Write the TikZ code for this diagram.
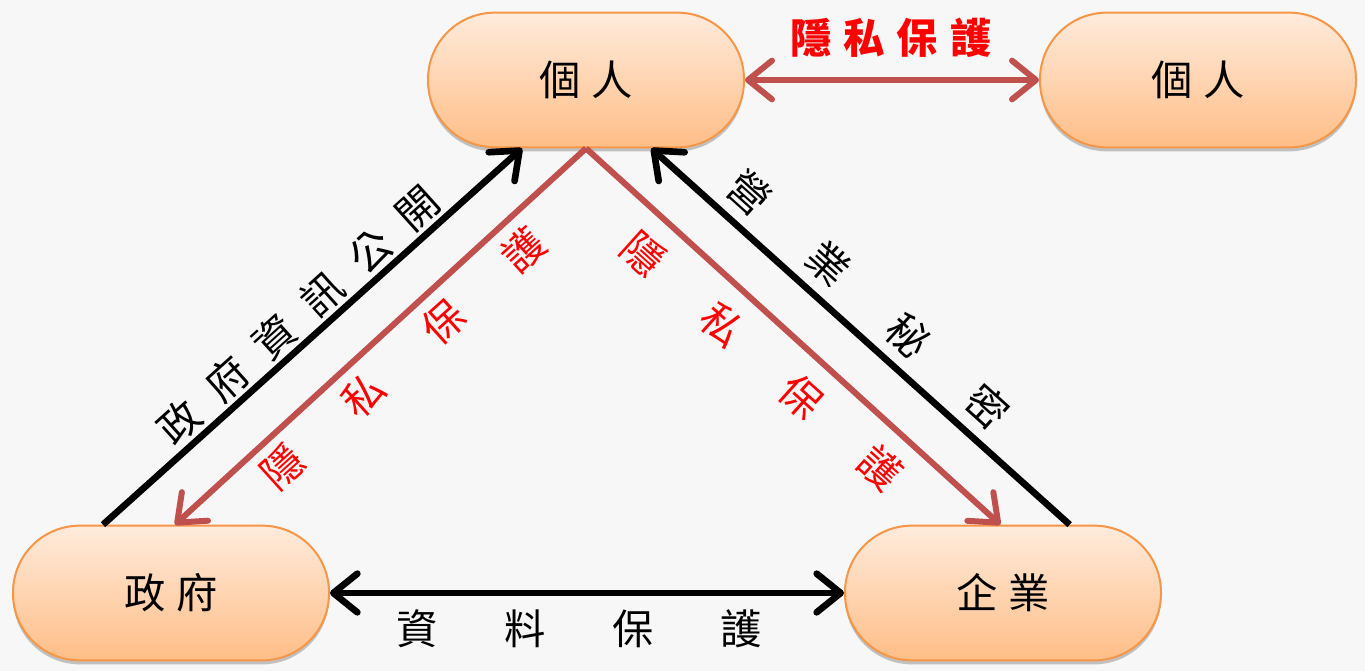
\documentclass[tikz,border=0pt]{standalone}
\usepackage{fontspec}
\setmainfont{Noto Sans CJK TC}
\usetikzlibrary{arrows.meta,shadows,calc}
\definecolor{bg}{HTML}{F7F7F7}
\definecolor{nodeline}{HTML}{F79646}
\definecolor{nodetop}{HTML}{FFEBDC}
\definecolor{nodebot}{HTML}{FFBE87}
\definecolor{redarrow}{HTML}{C0504D}
\definecolor{redtext}{HTML}{FF0000}
\newcommand\cbox[2]{\makebox[#1]{#2}}
\begin{document}
\begin{tikzpicture}[x=0.75pt,y=-0.75pt,
  pill/.style={rectangle, rounded corners=50pt, minimum width=237pt, minimum height=101pt,
    draw=nodeline, line width=1.5pt, top color=nodetop, bottom color=nodebot,
    drop shadow={shadow xshift=0pt, shadow yshift=-3pt, opacity=0.22, fill=black},
    font=\fontsize{31}{33}\selectfont, inner sep=0pt},
  blackarrow/.style={line width=5pt, draw=black, -{Straight Barb[length=18pt, width=29pt, line cap=round, line join=round]}},
  blackboth/.style={line width=5pt, draw=black, {Straight Barb[length=18pt, width=29pt, line cap=round, line join=round]}-{Straight Barb[length=18pt, width=29pt, line cap=round, line join=round]}},
  redarrow/.style={line width=4.5pt, draw=redarrow, -{Straight Barb[length=18pt, width=29pt, line cap=round, line join=round]}},
  redboth/.style={line width=4.5pt, draw=redarrow, {Straight Barb[length=18pt, width=29pt, line cap=round, line join=round]}-{Straight Barb[length=18pt, width=29pt, line cap=round, line join=round]}},
  blklabel/.style={font=\fontsize{31}{33}\selectfont, text=black, inner sep=0pt},
  redlabel/.style={font=\fontsize{31}{33}\selectfont, text=redtext, inner sep=0pt},
]
\fill[bg] (0,0) rectangle (1365,671);
\useasboundingbox (0,0) rectangle (1365,671);

\node[pill] (p1) at (586,80) {\cbox{39pt}{個}\cbox{39pt}{人}};
\node[pill] (p2) at (1198,80) {\cbox{39pt}{個}\cbox{39pt}{人}};
\node[pill] (gov) at (171,593) {\cbox{39pt}{政}\cbox{39pt}{府}};
\node[pill] (ent) at (1003,593) {\cbox{39pt}{企}\cbox{39pt}{業}};

% connectors
\draw[blackarrow] ([xshift=-51pt]gov.north) -- ([xshift=-48pt]p1.south);
\draw[redarrow] (p1.south) -- ([xshift=3pt]gov.north);
\draw[redarrow] (p1.south) -- ([xshift=-2pt]ent.north);
\draw[blackarrow] ([xshift=50pt]ent.north) -- ([xshift=49pt]p1.south);
\draw[blackboth] (gov.east) -- (ent.west);
\draw[redboth] (p1.east) -- (p2.west);

% labels
\node[redlabel, font=\fontsize{31}{33}\selectfont\bfseries] (l0) at (891,38)
  {\cbox{40pt}{隱}\cbox{40pt}{私}\cbox{40pt}{保}\cbox{40pt}{護}};
\node[blklabel] (l1) at (579.5,629)
  {\cbox{81pt}{資}\cbox{81pt}{料}\cbox{81pt}{保}\cbox{81pt}{護}};
\node[blklabel, rotate=42] (l2) at (298.5,315)
  {\cbox{48pt}{政}\cbox{48pt}{府}\cbox{48pt}{資}\cbox{48pt}{訊}\cbox{48pt}{公}\cbox{48pt}{開}};
\node[redlabel, rotate=42] (l3) at (403,358.5)
  {\cbox{81pt}{隱}\cbox{81pt}{私}\cbox{81pt}{保}\cbox{81pt}{護}};
\node[redlabel, rotate=-42] (l4) at (762,360.5)
  {\cbox{80pt}{隱}\cbox{80pt}{私}\cbox{80pt}{保}\cbox{80pt}{護}};
\node[blklabel, rotate=-42] (l5) at (868.5,299.5)
  {\cbox{80pt}{營}\cbox{80pt}{業}\cbox{80pt}{秘}\cbox{80pt}{密}};
\end{tikzpicture}
\end{document}
